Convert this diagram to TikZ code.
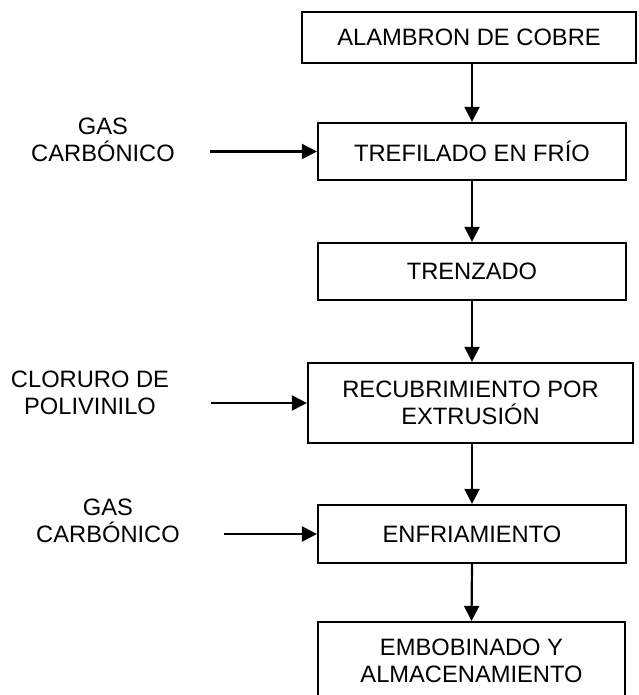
\documentclass[tikz,border=0pt]{standalone}
\usepackage{fontspec}
\setmainfont{Liberation Sans}
\usepackage{tikz}
\usetikzlibrary{positioning,arrows.meta}

\tikzset{
  proceso/.style={draw=black, line width=2.2pt, fill=white, align=center, inner sep=0pt,
    font=\fontsize{23.7}{27.5}\selectfont},
  entrada/.style={align=center, inner sep=0pt, font=\fontsize{23.7}{26.5}\selectfont},
  flecha/.style={line width=2.2pt, -{Triangle[length=15pt,width=15pt]}}
}

\begin{document}
\begin{tikzpicture}[x=1pt, y=-1pt]
  % Page frame
  \clip (0,0) rectangle (638,695);
  \fill[white] (0,0) rectangle (638,695);

  % Process boxes
  \node[proceso, minimum width=334pt, minimum height=51pt] (alambron) at (469,37.5) {ALAMBRON DE COBRE};
  \node[proceso, minimum width=308pt, minimum height=57pt] (trefilado) at (472,151.5) {TREFILADO EN FRÍO};
  \node[proceso, minimum width=308pt, minimum height=57pt] (trenzado) at (472,271.5) {TRENZADO};
  \node[proceso, minimum width=325pt, minimum height=80pt] (recubrimiento) at (470.5,403) {RECUBRIMIENTO POR\\EXTRUSIÓN};
  \node[proceso, minimum width=308pt, minimum height=58pt] (enfriamiento) at (472,534) {ENFRIAMIENTO};
  \node[proceso, minimum width=307pt, minimum height=78pt] (embobinado) at (471.5,661) {EMBOBINADO Y\\ALMACENAMIENTO};

  % Inputs on the left
  \node[entrada] (gas1) at (103,140) {GAS\\CARBÓNICO};
  \node[entrada] (cloruro) at (90,393) {CLORURO DE\\POLIVINILO};
  \node[entrada] (gas2) at (108,521) {GAS\\CARBÓNICO};
  \coordinate (ent1) at (210,151.5);
  \coordinate (ent2) at (211,403);
  \coordinate (ent3) at (224,534);

  % Main flow
  \draw[flecha] (alambron.south -| trefilado.north) -- (trefilado.north);
  \draw[flecha] (trefilado.south) -- (trenzado.north);
  \draw[flecha] (trenzado.south) -- (trenzado.south |- recubrimiento.north);
  \draw[flecha] (recubrimiento.south -| enfriamiento.north) -- (enfriamiento.north);
  \draw[flecha] (enfriamiento.south) -- (embobinado.north);

  % Side inputs
  \draw[flecha] (ent1) -- (trefilado.west);
  \draw[flecha] (ent2) -- (recubrimiento.west);
  \draw[flecha] (ent3) -- (enfriamiento.west);
\end{tikzpicture}
\end{document}
